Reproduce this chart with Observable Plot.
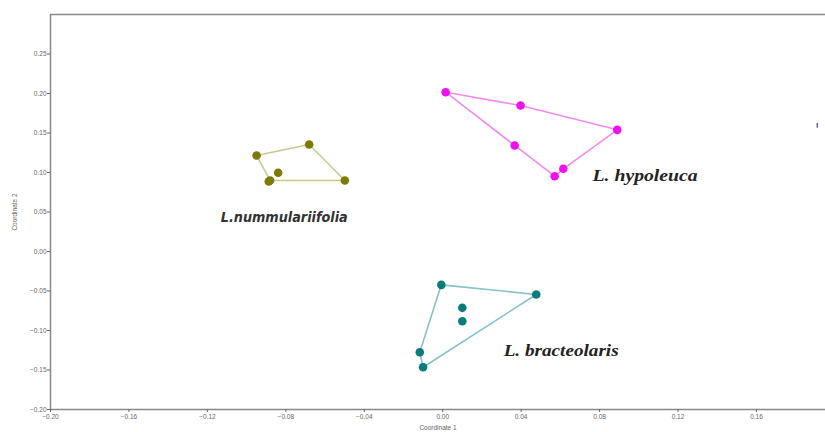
<!DOCTYPE html>
<html><head><meta charset="utf-8">
<script src="https://cdn.jsdelivr.net/npm/d3@7"></script>
<script src="https://cdn.jsdelivr.net/npm/@observablehq/plot@0.6"></script>
<style>body{margin:0;background:#fff;} svg{display:block;}</style>
</head><body><div id="chart"></div>
<script>
// L. nummulariifolia
const nummX = [-0.0949, -0.0681, -0.0499, -0.0839, -0.0880, -0.0887];
const nummY = [0.1215, 0.1354, 0.0899, 0.0996, 0.0899, 0.0886];
const nummHull = [0, 1, 2, 4, 0];
// L. hypoleuca
const hypoX = [0.0015, 0.0397, 0.0890, 0.0367, 0.0615, 0.0571];
const hypoY = [0.2016, 0.1848, 0.1540, 0.1342, 0.1047, 0.0953];
const hypoHull = [0, 1, 2, 4, 5, 3, 0];
// L. bracteolaris
const bracX = [-0.0007, 0.0477, 0.0100, 0.0100, -0.0117, -0.0100];
const bracY = [-0.0422, -0.0544, -0.0713, -0.0882, -0.1275, -0.1465];
const bracHull = [0, 1, 5, 4, 0];
// labels
const labelText = ["L.nummulariifolia", "L. hypoleuca", "L. bracteolaris"];
const labelX = [-0.0808, 0.1032, 0.0604];
const labelY = [0.043, 0.0962, -0.1253];
const xTicks = [-0.20, -0.16, -0.12, -0.08, -0.04, 0.00, 0.04, 0.08, 0.12, 0.16];
const yTicks = [-0.20, -0.15, -0.10, -0.05, 0.00, 0.05, 0.10, 0.15, 0.20, 0.25];
// stray small mark at the right edge
const strayX = [0.191];
const strayY1 = [0.156];
const strayY2 = [0.162];

const pts = (xs, ys) => xs.map((x, i) => ({x, y: ys[i]}));
const hull = (xs, ys, idx) => idx.map(i => ({x: xs[i], y: ys[i]}));

const groups = [
  {xs: nummX, ys: nummY, h: nummHull, dot: "#7b7b05", line: "#c9c98c"},
  {xs: hypoX, ys: hypoY, h: hypoHull, dot: "#f010f0", line: "#f08cf0"},
  {xs: bracX, ys: bracY, h: bracHull, dot: "#0a7d7a", line: "#86c3c1"}
];

const marks = [
  Plot.ruleX([-0.2], {stroke: "#888", strokeWidth: 1.5}),
  Plot.ruleY([0.3], {stroke: "#888", strokeWidth: 1.5}),
  Plot.ruleY([-0.2], {stroke: "#888", strokeWidth: 1.5}),
  Plot.axisX({ticks: xTicks, tickSize: 3, tickPadding: 2, tickFormat: d3.format(".2f"),
    fontSize: 6.5, color: "#666", label: "Coordinate 1", labelAnchor: "center", labelOffset: 20, labelArrow: false}),
  Plot.axisY({ticks: yTicks, tickSize: 3, tickPadding: 1, tickFormat: d3.format(".2f"),
    fontSize: 6.5, color: "#666", label: "Coordinate 2", labelAnchor: "center", labelOffset: 38, labelArrow: false}),
  Plot.ruleX(strayX.map((x, i) => ({x, y1: strayY1[i], y2: strayY2[i]})), {x: "x", y1: "y1", y2: "y2", stroke: "#2b3fa8", strokeWidth: 1.2})
];
for (const g of groups) {
  marks.push(Plot.line(hull(g.xs, g.ys, g.h), {x: "x", y: "y", stroke: g.line, strokeWidth: 1.6}));
  marks.push(Plot.dot(pts(g.xs, g.ys), {x: "x", y: "y", r: 4.3, fill: g.dot, stroke: "none"}));
}
const labels = labelText.map((t, i) => ({t, x: labelX[i], y: labelY[i]}));
marks.push(Plot.text(labels.slice(0, 1), {
  x: "x", y: "y", text: "t", fontSize: 13.5, fontWeight: "bold", fontStyle: "italic",
  fontFamily: "DejaVu Sans, sans-serif", fill: "#333", className: "lab-sans"}));
marks.push(Plot.text(labels.slice(1), {
  x: "x", y: "y", text: "t", fontSize: 16, fontWeight: "bold", fontStyle: "italic",
  fontFamily: "Liberation Serif, Times New Roman, serif", fill: "#222", className: "lab-serif"}));

const chart = Plot.plot({
  width: 825, height: 432,
  marginLeft: 50, marginRight: 0, marginTop: 14, marginBottom: 23,
  style: {background: "#fff", fontFamily: "Liberation Sans, Arial, sans-serif"},
  x: {domain: [-0.2, 0.1952]},
  y: {domain: [-0.2, 0.3]},
  marks
});
// stretch labels to the widths seen in the reference
const widths = {"L.nummulariifolia": 127, "L. hypoleuca": 105, "L. bracteolaris": 115};
chart.querySelectorAll("text").forEach(el => {
  const w = widths[el.textContent];
  if (w) { el.setAttribute("textLength", w); el.setAttribute("lengthAdjust", "spacingAndGlyphs"); }
});
document.getElementById("chart").appendChild(chart);
</script></body></html>
